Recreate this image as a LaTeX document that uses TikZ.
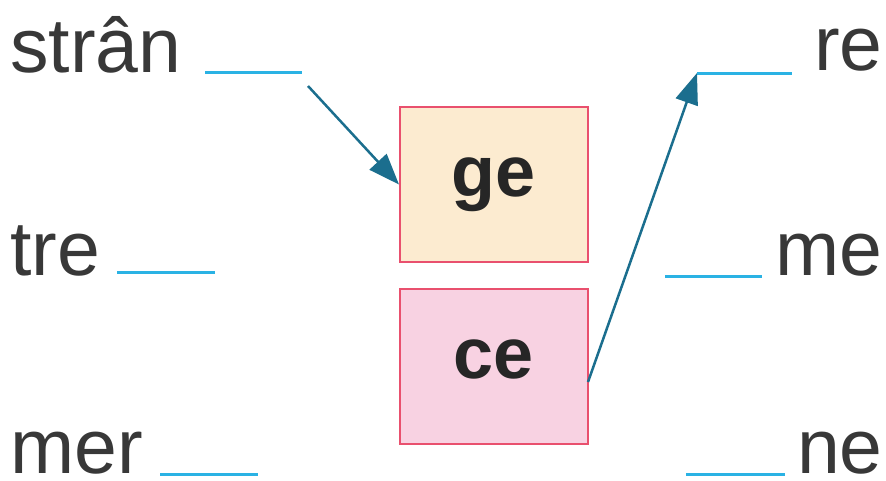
\documentclass[tikz,border=0pt]{standalone}
\usepackage{fontspec}
\setmainfont{Liberation Sans}
\usetikzlibrary{arrows.meta,positioning}

\definecolor{wordgray}{HTML}{383838}
\definecolor{blankblue}{HTML}{2AB2E4}
\definecolor{arrowteal}{HTML}{1B6E8E}
\definecolor{boxred}{HTML}{E9506E}
\definecolor{gefill}{HTML}{FCEBD0}
\definecolor{cefill}{HTML}{F8D2E2}

\tikzset{
  word/.style={inner sep=0pt, text=wordgray, font=\fontsize{77}{80}\selectfont},
  syllable/.style={draw=boxred, line width=2pt, minimum width=188pt, minimum height=155pt,
    inner sep=0pt, text height=40pt, text depth=16pt,
    font=\fontsize{72}{76}\selectfont\bfseries, text=black!85},
  blank/.style={blankblue, line width=3pt},
  link/.style={arrowteal, line width=2.5pt, -{Triangle[length=31pt,width=23pt]}}
}

\begin{document}
\begin{tikzpicture}[x=1pt,y=-1pt]
\useasboundingbox (0,0) rectangle (886,480);

% Left words
\node[word, anchor=base west] (stran) at (10,72) {strân};
\node[word, anchor=base west] (tre) at (10,275) {tre};
\node[word, anchor=base west] (mer) at (10,473) {mer};

% Right words
\node[word, anchor=base east] (re) at (883,70) {re};
\node[word, anchor=base east] (me) at (883,275) {me};
\node[word, anchor=base east] (ne) at (883,473) {ne};

% Blanks
\draw[blank] (205,72) coordinate (stranblank) -- (302,72);
\draw[blank] (117,272) -- (215,272);
\draw[blank] (160,474) -- (258,474);
\draw[blank] (697,73) coordinate (reblank) -- (792,73);
\draw[blank] (665,276) -- (762,276);
\draw[blank] (686,474) -- (785,474);

% Syllable boxes
\node[syllable, fill=gefill] (ge) at (494,184.5) {ge};
\node[syllable, fill=cefill, below=25pt of ge] (ce) {ce};

% Links
\coordinate (stranout) at (308,86);
\coordinate (ceout) at (588,382);
\draw[link] (stranout) -- (ge.west);
\draw[link] (ceout) -- (reblank);
\end{tikzpicture}
\end{document}
